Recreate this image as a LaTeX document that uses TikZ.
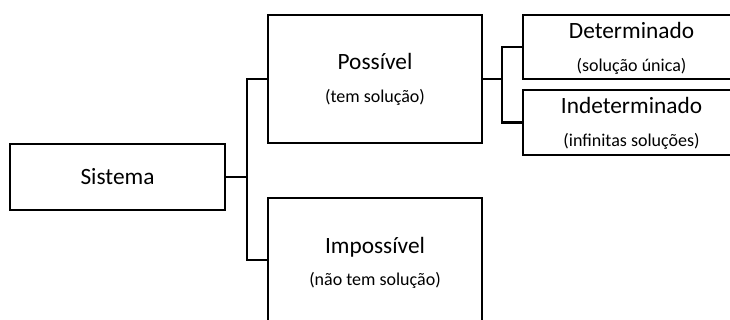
\documentclass[tikz,border=0pt]{standalone}
\usepackage{fontspec}
\setmainfont{Carlito}
\begin{document}
\begin{tikzpicture}[x=0.75pt,y=-0.75pt,
  box/.style={draw=black,line width=2.2pt,inner sep=0pt,rectangle,fill=white},
  conn/.style={draw=black,line width=2.2pt},
  maintxt/.style={anchor=base,inner sep=0pt,font=\fontsize{17.5}{20}\selectfont},
  subtxt/.style={anchor=base,inner sep=0pt,font=\fontsize{13.5}{16}\selectfont}]
\useasboundingbox (0,0) rectangle (730,320);
\clip (0,0) rectangle (730,320);
% boxes
\node[box,minimum width=215*0.75pt,minimum height=66*0.75pt] (sis) at (117.5,177) {};
\node[box,minimum width=214*0.75pt,minimum height=128*0.75pt] (pos) at (375,79) {};
\node[box,minimum width=214*0.75pt,minimum height=124*0.75pt] (imp) at (375,260) {};
\node[box,minimum width=217*0.75pt,minimum height=64*0.75pt] (det) at (631.5,47) {};
\node[box,minimum width=217*0.75pt,minimum height=65*0.75pt] (ind) at (631.5,122.5) {};
% texts
\node[maintxt] (tsis) at (117.5,185) {Sistema};
\node[maintxt] (tpos) at (375,70) {Possível};
\node[subtxt] (spos) at (375,103) {(tem solução)};
\node[maintxt] (timp) at (375,253) {Impossível};
\node[subtxt] (simp) at (375,285) {(não tem solução)};
\node[maintxt] (tdet) at (631.5,39) {Determinado};
\node[subtxt] (sdet) at (631.5,72) {(solução única)};
\node[maintxt] (tind) at (631.5,114) {Indeterminado};
\node[subtxt] (sind) at (631.5,147) {(infinitas soluções)};
% junctions
\coordinate (j1) at (247,177);
\coordinate (j2) at (502,79);
% connectors
\draw[conn] (sis.east) -- (sis.east -| j1) |- (pos.west);
\draw[conn] (sis.east -| j1) |- (imp.west);
\draw[conn] (pos.east) -- (pos.east -| j2) |- (det.west);
\draw[conn] (pos.east -| j2) |- (ind.west);
\end{tikzpicture}
\end{document}
